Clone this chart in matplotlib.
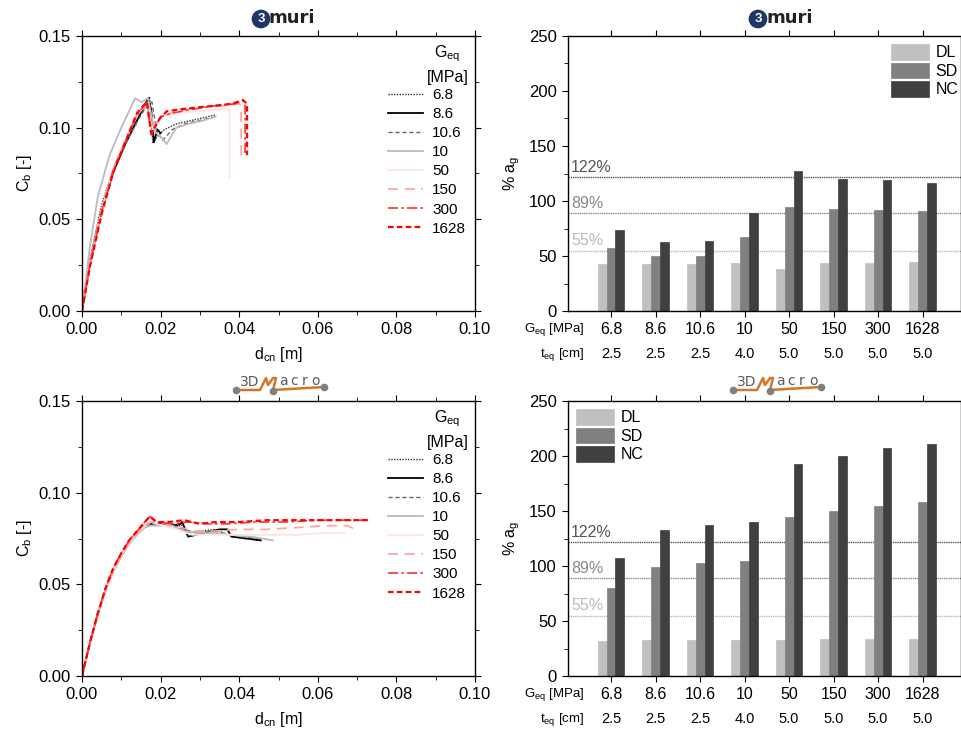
import numpy as np
import matplotlib.pyplot as plt
from matplotlib.ticker import MultipleLocator

plt.rcParams['font.family'] = ['Liberation Sans', 'DejaVu Sans']
plt.rcParams['mathtext.fontset'] = 'custom'
plt.rcParams['mathtext.rm'] = 'Liberation Sans'
plt.rcParams['mathtext.it'] = 'Liberation Sans:italic'

# ---- data ----
g_labels = ['6.8', '8.6', '10.6', '10', '50', '150', '300', '1628']
t_labels = ['2.5', '2.5', '2.5', '4.0', '5.0', '5.0', '5.0', '5.0']

# pushover curves, 3muri (d [m], Cb [-])
muri_d = {
    '6.8': [0, 0.002, 0.005, 0.008, 0.011, 0.0145, 0.0165, 0.0172, 0.018, 0.0195, 0.021, 0.024, 0.028, 0.032, 0.034],
    '8.6': [0, 0.002, 0.005, 0.008, 0.011, 0.0145, 0.0168, 0.0176, 0.0183, 0.0192, 0.020],
    '10.6': [0, 0.002, 0.005, 0.008, 0.011, 0.0145, 0.0165, 0.0178, 0.019, 0.0205, 0.023, 0.026, 0.030, 0.034],
    '10': [0, 0.002, 0.004, 0.007, 0.010, 0.0135, 0.0152, 0.0168, 0.0185, 0.0205, 0.0215, 0.024, 0.027, 0.031, 0.034],
    '50': [0, 0.002, 0.005, 0.008, 0.011, 0.014, 0.0165, 0.018, 0.020, 0.024, 0.030, 0.036, 0.0375, 0.0375],
    '150': [0, 0.002, 0.005, 0.008, 0.011, 0.014, 0.0165, 0.0178, 0.020, 0.024, 0.030, 0.036, 0.040, 0.0405, 0.0405],
    '300': [0, 0.002, 0.005, 0.008, 0.011, 0.014, 0.0165, 0.0176, 0.020, 0.023, 0.028, 0.034, 0.039, 0.041, 0.0415, 0.0415],
    '1628': [0, 0.002, 0.005, 0.008, 0.011, 0.014, 0.0165, 0.0176, 0.0198, 0.0216, 0.025, 0.029, 0.034, 0.038, 0.041, 0.042, 0.042],
}
muri_c = {
    '6.8': [0, 0.028, 0.058, 0.078, 0.092, 0.106, 0.113, 0.117, 0.092, 0.096, 0.099, 0.102, 0.104, 0.106, 0.107],
    '8.6': [0, 0.026, 0.055, 0.076, 0.091, 0.106, 0.116, 0.110, 0.092, 0.099, 0.097],
    '10.6': [0, 0.027, 0.056, 0.077, 0.091, 0.105, 0.112, 0.114, 0.098, 0.093, 0.099, 0.102, 0.104, 0.106],
    '10': [0, 0.035, 0.062, 0.085, 0.100, 0.116, 0.114, 0.116, 0.098, 0.094, 0.091, 0.100, 0.102, 0.104, 0.106],
    '50': [0, 0.026, 0.055, 0.078, 0.093, 0.107, 0.113, 0.099, 0.106, 0.108, 0.109, 0.110, 0.110, 0.073],
    '150': [0, 0.026, 0.055, 0.078, 0.093, 0.107, 0.113, 0.099, 0.106, 0.109, 0.111, 0.112, 0.113, 0.112, 0.082],
    '300': [0, 0.025, 0.054, 0.077, 0.092, 0.107, 0.114, 0.096, 0.106, 0.108, 0.110, 0.112, 0.113, 0.115, 0.113, 0.085],
    '1628': [0, 0.024, 0.053, 0.076, 0.092, 0.108, 0.114, 0.097, 0.105, 0.109, 0.110, 0.111, 0.112, 0.113, 0.115, 0.113, 0.085],
}

# pushover curves, 3DMacro
macro_d = {
    '6.8': [0, 0.002, 0.004, 0.006, 0.008, 0.010, 0.012, 0.014, 0.016, 0.0175, 0.019, 0.022, 0.025, 0.027, 0.030, 0.034, 0.037, 0.041, 0.045],
    '8.6': [0, 0.002, 0.004, 0.006, 0.008, 0.010, 0.012, 0.014, 0.016, 0.0175, 0.019, 0.022, 0.0245, 0.0255, 0.027, 0.031, 0.035, 0.037, 0.038, 0.042, 0.0455],
    '10.6': [0, 0.002, 0.004, 0.006, 0.008, 0.010, 0.012, 0.014, 0.016, 0.0175, 0.019, 0.023, 0.026, 0.029, 0.033, 0.036, 0.040, 0.045],
    '10': [0, 0.002, 0.004, 0.006, 0.008, 0.010, 0.012, 0.014, 0.016, 0.0175, 0.019, 0.023, 0.026, 0.030, 0.034, 0.038, 0.043, 0.0485],
    '50': [0, 0.002, 0.004, 0.006, 0.008, 0.010, 0.012, 0.014, 0.016, 0.0175, 0.019, 0.024, 0.028, 0.035, 0.045, 0.055, 0.062, 0.067],
    '150': [0, 0.002, 0.004, 0.006, 0.008, 0.010, 0.012, 0.014, 0.016, 0.0175, 0.019, 0.024, 0.028, 0.033, 0.040, 0.047, 0.055, 0.062, 0.0675, 0.0695],
    '300': [0, 0.002, 0.004, 0.006, 0.008, 0.010, 0.012, 0.014, 0.016, 0.0173, 0.019, 0.023, 0.027, 0.032, 0.037, 0.044, 0.052, 0.060, 0.0725],
    '1628': [0, 0.002, 0.004, 0.006, 0.008, 0.010, 0.012, 0.014, 0.016, 0.0172, 0.019, 0.022, 0.026, 0.030, 0.034, 0.040, 0.047, 0.055, 0.065, 0.073],
}
macro_c = {
    '6.8': [0, 0.018, 0.034, 0.047, 0.058, 0.066, 0.073, 0.078, 0.082, 0.083, 0.083, 0.082, 0.083, 0.078, 0.079, 0.080, 0.077, 0.075, 0.074],
    '8.6': [0, 0.018, 0.034, 0.047, 0.058, 0.066, 0.073, 0.078, 0.082, 0.083, 0.083, 0.083, 0.082, 0.084, 0.076, 0.078, 0.080, 0.080, 0.076, 0.075, 0.074],
    '10.6': [0, 0.018, 0.034, 0.047, 0.058, 0.066, 0.073, 0.078, 0.082, 0.083, 0.083, 0.082, 0.080, 0.078, 0.079, 0.078, 0.076, 0.075],
    '10': [0, 0.018, 0.033, 0.046, 0.057, 0.065, 0.072, 0.077, 0.081, 0.082, 0.082, 0.082, 0.079, 0.078, 0.078, 0.077, 0.076, 0.074],
    '50': [0, 0.018, 0.034, 0.047, 0.058, 0.066, 0.073, 0.078, 0.082, 0.084, 0.083, 0.080, 0.077, 0.077, 0.077, 0.077, 0.078, 0.078],
    '150': [0, 0.018, 0.034, 0.047, 0.058, 0.066, 0.073, 0.078, 0.082, 0.084, 0.084, 0.082, 0.079, 0.079, 0.080, 0.080, 0.081, 0.082, 0.082, 0.080],
    '300': [0, 0.018, 0.034, 0.048, 0.059, 0.067, 0.074, 0.079, 0.084, 0.087, 0.084, 0.083, 0.084, 0.083, 0.083, 0.084, 0.084, 0.085, 0.085],
    '1628': [0, 0.018, 0.034, 0.048, 0.059, 0.067, 0.074, 0.079, 0.084, 0.087, 0.084, 0.084, 0.085, 0.083, 0.084, 0.084, 0.085, 0.085, 0.085, 0.085],
}

# % a_g bars
muri_dl = [43, 43, 43, 44, 38, 44, 44, 45]
muri_sd = [57, 50, 50, 67, 95, 93, 92, 91]
muri_nc = [74, 63, 64, 89, 127, 120, 119, 116]
macro_dl = [32, 33, 33, 33, 33, 34, 34, 34]
macro_sd = [80, 99, 103, 105, 145, 150, 155, 158]
macro_nc = [107, 133, 137, 140, 193, 200, 207, 211]

ref_levels = [122, 89, 55]

# ---- styles ----
line_style = {
    '6.8': dict(color='#333333', ls=(0, (1, 1)), lw=1.0),
    '8.6': dict(color='black', ls='-', lw=1.3),
    '10.6': dict(color='#666666', ls=(0, (3, 2)), lw=1.0),
    '10': dict(color='#bbbbbb', ls='-', lw=1.3),
    '50': dict(color='#ffe3e3', ls='-', lw=1.3),
    '150': dict(color='#ffa0a0', ls=(0, (6, 4)), lw=1.2),
    '300': dict(color='#ff3030', ls=(0, (6, 2, 1.5, 2)), lw=1.2),
    '1628': dict(color='#ff0000', ls=(0, (2.5, 1.5)), lw=1.6),
}
ref_colors = ['#555555', '#888888', '#bbbbbb']
bar_colors = ['#c0c0c0', '#808080', '#404040']

fig = plt.figure(figsize=(9.61, 7.29), dpi=100)

W, H = 961, 729
def ax_rect(x0, x1, y0, y1):
    return [x0 / W, 1 - y1 / H, (x1 - x0) / W, (y1 - y0) / H]

ax_tl = fig.add_axes(ax_rect(82, 475, 36, 311))
ax_bl = fig.add_axes(ax_rect(82, 475, 401, 676))
ax_tr = fig.add_axes(ax_rect(568, 960.5, 36, 311))
ax_br = fig.add_axes(ax_rect(568, 960.5, 401, 676))


def frame(ax):
    ax.tick_params(which='both', direction='out', top=True, right=True,
                   labeltop=False, labelright=False, labelsize=12)
    ax.tick_params(which='major', length=4.5)
    ax.tick_params(which='minor', length=3)
    for s in ax.spines.values():
        s.set_linewidth(1.0)


def curves(ax, dd, cc):
    for g in g_labels:
        ax.plot(dd[g], cc[g], label=g, **line_style[g])
    ax.set_xlim(0, 0.1)
    ax.set_ylim(0, 0.15)
    ax.xaxis.set_major_locator(MultipleLocator(0.02))
    ax.xaxis.set_minor_locator(MultipleLocator(0.01))
    ax.yaxis.set_major_locator(MultipleLocator(0.05))
    ax.yaxis.set_minor_locator(MultipleLocator(0.025))
    ax.xaxis.set_major_formatter(lambda v, p: f'{v:.2f}')
    ax.yaxis.set_major_formatter(lambda v, p: f'{v:.2f}')
    frame(ax)
    ax.set_xlabel(r'd$_{\mathrm{cn}}$ [m]', fontsize=11.5, labelpad=6)
    ax.set_ylabel(r'C$_{\mathrm{b}}$ [-]', fontsize=11.5, labelpad=3)
    ax.text(0.93, 0.935, r'G$_{\mathrm{eq}}$', transform=ax.transAxes,
            ha='center', va='center', fontsize=11.5)
    ax.text(0.93, 0.85, '[MPa]', transform=ax.transAxes,
            ha='center', va='center', fontsize=11.5)
    ax.legend(loc='upper left', bbox_to_anchor=(0.778, 0.81), frameon=False,
              fontsize=11, handlelength=2.3, handletextpad=0.6,
              labelspacing=0.33, borderpad=0, borderaxespad=0)


def bars(ax, dl, sd, nc, legend_loc, legend_anchor):
    x = np.arange(len(g_labels))
    w = 0.2
    for vals, off, col, name in zip([dl, sd, nc], [-w, 0, w], bar_colors, ['DL', 'SD', 'NC']):
        ax.bar(x + off, vals, width=w, color=col, edgecolor=col, linewidth=0.5, label=name)
    for lev, col in zip(ref_levels, ref_colors):
        ax.axhline(lev, color=col, ls=(0, (1, 0.6)), lw=1.0, zorder=0.5)
        ax.text(-0.9, lev + 2, f'{lev}%', color=col, fontsize=11.5, ha='left', va='bottom')
    ax.set_xlim(-0.966, 7.85)
    ax.set_ylim(0, 250)
    ax.set_xticks(x)
    ax.set_xticklabels([])
    ax.yaxis.set_major_locator(MultipleLocator(50))
    ax.yaxis.set_minor_locator(MultipleLocator(25))
    frame(ax)
    ax.tick_params(axis='x', which='minor', bottom=False, top=False)
    ax.set_ylabel(r'% a$_{\mathrm{g}}$', fontsize=11.5, labelpad=5)
    tr = ax.get_xaxis_transform()
    for xi, g, t in zip(x, g_labels, t_labels):
        ax.text(xi, -0.066, g, transform=tr, ha='center', va='center', fontsize=11.5)
        ax.text(xi, -0.158, t, transform=tr, ha='center', va='center', fontsize=10.5)
    ax.text(-0.6, -0.066, r'G$_{\mathrm{eq}}$ [MPa]', transform=tr, ha='right', va='center', fontsize=9.5)
    ax.text(-0.6, -0.158, r't$_{\mathrm{eq}}$ [cm]', transform=tr, ha='right', va='center', fontsize=9.5)
    ax.legend(loc=legend_loc, bbox_to_anchor=legend_anchor, frameon=False, fontsize=11.5,
              handlelength=2.4, handleheight=1.1, handletextpad=0.4, labelspacing=0.15,
              borderpad=0, borderaxespad=0)


curves(ax_tl, muri_d, muri_c)
curves(ax_bl, macro_d, macro_c)
bars(ax_tr, muri_dl, muri_sd, muri_nc, 'upper right', (0.995, 0.97))
bars(ax_br, macro_dl, macro_sd, macro_nc, 'upper left', (0.02, 0.97))


def logo_muri(cx, cy):
    fig.text(cx / W, 1 - cy / H, '3', color='white', fontsize=9.5, fontweight='bold',
             ha='center', va='center',
             bbox=dict(boxstyle='circle,pad=0.2', fc='#1f3566', ec='#1f3566'))
    fig.text((cx + 8) / W, 1 - (cy - 1) / H, 'muri', color='#222222', fontsize=13,
             fontweight='bold', ha='left', va='center', family='Liberation Sans Narrow')


def logo_macro(x0, cy):
    orange = '#d2762a'
    fx = lambda px: px / W
    fy = lambda py: 1 - py / H
    # baseline with the stylised M
    mx = [x0, x0 + 24, x0 + 30, x0 + 32, x0 + 37, x0 + 40, x0 + 37, x0 + 88]
    my = [cy + 6, cy + 6, cy - 6, cy + 1, cy - 6, cy - 6, cy + 6, cy + 3]
    fig.add_artist(plt.Line2D([fx(v) for v in mx], [fy(v) for v in my],
                              transform=fig.transFigure, color=orange, lw=1.8))
    fig.add_artist(plt.Line2D([fx(x0), fx(x0 + 37), fx(x0 + 88)],
                              [fy(cy + 6), fy(cy + 7), fy(cy + 3)],
                              transform=fig.transFigure, ls='none',
                              marker='o', ms=4.5, color='#808080'))
    fig.text(fx(x0 + 14), fy(cy - 2), '3D', color='#5a5a5a', fontsize=10,
             ha='center', va='center', family='DejaVu Sans')
    for i, ch in enumerate('acro'):
        fig.text(fx(x0 + 47 + 11 * i), fy(cy - 3), ch, color='#5a5a5a', fontsize=10,
                 ha='center', va='center', family='DejaVu Sans')


logo_muri(261, 19)
logo_muri(758, 19)
logo_macro(236, 384)
logo_macro(733, 384)

fig.savefig('out.png', dpi=100)
